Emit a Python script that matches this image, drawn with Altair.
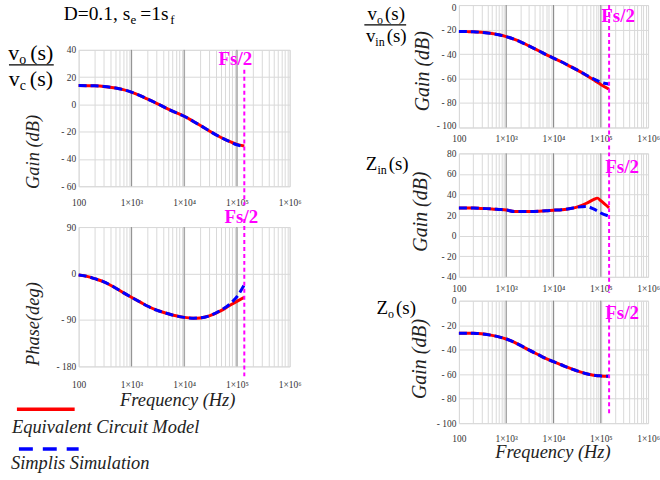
import altair as alt
import pandas as pd

# ---------------- data ----------------
FREQ_LEFT = [100, 150, 200, 300, 500, 700, 1000, 1500, 2000, 3000, 5000, 7000,
             10000, 15000, 20000, 30000, 50000, 70000, 85000, 100000, 138000]
FREQ_RIGHT = [100, 150, 200, 300, 500, 700, 1000, 1500, 2000, 3000, 5000, 7000,
              10000, 15000, 20000, 30000, 50000, 70000, 85000, 100000, 150000]

VO_VC_MODEL = [13.8, 13.7, 13.6, 13.2, 12.0, 10.8, 9.0, 6.3, 4.0, 0.8, -3.5, -6.0,
               -8.7, -12.5, -15.3, -19.5, -24.3, -27.0, -28.3, -29.3, -30.5]
VO_VC_SIM = [13.8, 13.7, 13.6, 13.2, 12.0, 10.8, 9.0, 6.3, 4.0, 0.8, -3.5, -6.0,
             -8.7, -12.5, -15.3, -19.5, -24.3, -27.0, -28.5, -29.6, -31.0]
PHASE_MODEL = [-3, -6, -10, -16, -28, -37, -46, -56, -63, -71, -78, -82,
               -85, -86.5, -86, -82, -72, -63, -58, -54, -46]
PHASE_SIM = [-3, -6, -10, -16, -28, -37, -46, -56, -63, -71, -78, -82,
             -85, -86.5, -86, -82, -71, -61, -53, -45, -22]
VO_VIN_MODEL = [-21.6, -21.7, -21.8, -22.3, -23.3, -24.3, -25.8, -28.0, -30.0, -33.3, -37.5, -40.5,
                -43.3, -46.5, -49.0, -52.5, -57.5, -61.0, -63.0, -64.8, -68.8]
VO_VIN_SIM = [-21.6, -21.7, -21.8, -22.3, -23.3, -24.3, -25.8, -28.0, -30.0, -33.3, -37.5, -40.5,
              -43.3, -46.5, -49.0, -52.5, -57.3, -60.2, -61.8, -63.0, -64.5]
ZIN_MODEL = [27, 27, 27, 26.5, 26, 25.5, 25, 23.5, 23.5, 23.5, 23.8, 24.2,
             24.8, 25.3, 26, 27.5, 31.5, 35, 36.5, 34, 27]
ZIN_SIM = [27, 27, 27, 26.5, 26, 25.5, 25, 23.5, 23.5, 23.5, 23.8, 24.2,
           24.8, 25.3, 26, 27.5, 28.3, 26, 24, 22, 19]
ZO_MODEL = [-26.5, -26.5, -26.6, -27.0, -28.3, -29.5, -31.3, -34.0, -36.5, -40.2, -44.5, -47.3,
            -49.8, -52.5, -54.5, -57.0, -59.7, -60.8, -61.2, -61.4, -61.7]
ZO_SIM = [-26.5, -26.5, -26.6, -27.0, -28.3, -29.5, -31.3, -34.0, -36.5, -40.2, -44.5, -47.3,
          -49.8, -52.5, -54.5, -57.0, -59.7, -60.8, -61.2, -61.4, -61.7]

FS_HALF_LEFT = 138000
FS_HALF_RIGHT = 150000

X_DECADES = [100, 1000, 10000, 100000, 1000000]
X_TICK_LABELS = ["100", "1×10³", "1×10⁴", "1×10⁵", "1×10⁶"]
X_GRID = [m * d for d in [100, 1000, 10000, 100000] for m in range(1, 10)] + [1000000]
INNER_DECADES = [1000, 10000, 100000]

SERIES_NAMES = ["Equivalent Circuit Model", "Simplis Simulation"]

# ---------------- style ----------------
SERIF = "Liberation Serif"
RED = "#ff0000"
BLUE = "#0000ff"
MAGENTA = "#ff00ff"
MINOR = "#d9d9d9"
MAJOR = "#8a8a8a"
LAB = "#333333"

ONE = alt.Data(values=[{"k": 0}])

X_LABEL_EXPR = " : ".join(
    f"datum.value == {v} ? '{t}'" for v, t in zip(X_DECADES, X_TICK_LABELS)
) + " : ''"
Y_LABEL_EXPR = "datum.value < 0 ? '- ' + abs(datum.value) : '' + datum.value"

# approximate Times advance widths (em)
CW = {'v': .5, 'o': .5, 'c': .444, 'i': .278, 'n': .5, '(': .333, 's': .389, ')': .333,
      'Z': .611, 'D': .722, '=': .564, '0': .5, '.': .25, '1': .5, ',': .25, ' ': .25,
      'e': .444, 'f': .333}


def tw(s, size):
    return sum(CW.get(c, .5) for c in s) * size


def txt(s, x, y, size, align="left", style="normal", weight="normal", color="black"):
    return alt.Chart(ONE).mark_text(
        text=s, align=align, baseline="alphabetic", font=SERIF, fontSize=size,
        fontStyle=style, fontWeight=weight, color=color
    ).encode(x=alt.value(x), y=alt.value(y))


def rich(parts, x0, base, main, sub, drop=4, center=False, gap=2):
    widths = [tw(t, sub if s else main) + (gap if s else 0) for t, s in parts]
    total = sum(widths)
    x = x0 - total / 2 if center else x0
    out = []
    for (t, s), wd in zip(parts, widths):
        size = sub if s else main
        out.append(txt(t, x, base + (drop if s else 0), size))
        x += wd
    return out


def hline(x1, x2, y, color="black", width=1.2, dash=None):
    kw = dict(color=color, strokeWidth=width)
    if dash:
        kw["strokeDash"] = dash
    return alt.Chart(ONE).mark_rule(**kw).encode(
        x=alt.value(x1), x2=alt.value(x2), y=alt.value(y))


def panel(freq, model, sim, ydom, yticks, fs, w, h, ytitle, ytx, yty, lpad,
          rule_top, rule_bot, fs_dx, fs_base, xtitle=None, xtx=0, xty=0,
          ytitle_size=19, yflush=False, extras=()):
    xkw = dict(values=X_GRID, labelExpr=X_LABEL_EXPR, grid=True, gridColor=MINOR,
               gridWidth=1, ticks=False, domain=False, labelPadding=lpad,
               labelFlush=False, labelOverlap=False, labelFont=SERIF,
               labelFontSize=9.5, labelColor=LAB)
    if xtitle:
        xkw.update(title=xtitle, titleX=xtx, titleY=xty, titleBaseline="middle",
                   titleAlign="center", titleFont=SERIF, titleFontSize=18.5,
                   titleFontStyle="italic", titleFontWeight="normal", titleColor="#222222")
    else:
        xkw.update(title=None)
    ykw = dict(values=yticks, labelExpr=Y_LABEL_EXPR, grid=True, gridColor=MINOR,
               gridWidth=1, ticks=False, domain=False, labelPadding=3,
               labelOverlap=False, labelFont=SERIF,
               labelFontSize=9.5, labelColor=LAB,
               title=ytitle, titleX=ytx, titleY=yty, titleAngle=270,
               titleBaseline="middle", titleAlign="center", titleFont=SERIF,
               titleFontSize=ytitle_size, titleFontStyle="italic",
               titleFontWeight="normal", titleColor="#222222")
    if yflush:
        ykw.update(labelFlush=True, labelFlushOffset=3)
    else:
        ykw.update(labelFlush=False)
    xenc = alt.X("f:Q", scale=alt.Scale(type="log", domain=[100, 1000000], nice=False),
                 axis=alt.Axis(**xkw))
    yenc = alt.Y("v:Q", scale=alt.Scale(domain=ydom, nice=False, zero=False),
                 axis=alt.Axis(**ykw))

    df_model = pd.DataFrame({"f": freq, "v": model, "s": SERIES_NAMES[0]})
    df_sim = pd.DataFrame({"f": freq, "v": sim, "s": SERIES_NAMES[1]})

    decades = alt.Chart(pd.DataFrame({"f": INNER_DECADES})).mark_rule(
        color=MAJOR, strokeWidth=1).encode(x=xenc)
    red = alt.Chart(df_model).mark_line(
        color=RED, strokeWidth=3, interpolate="monotone").encode(x=xenc, y=yenc)
    blue = alt.Chart(df_sim).mark_line(
        color=BLUE, strokeWidth=3, strokeDash=[8, 4], interpolate="monotone"
    ).encode(x=xenc, y=yenc)
    fsdf = pd.DataFrame({"f": [fs]})
    fsrule = alt.Chart(fsdf).mark_rule(
        color=MAGENTA, strokeWidth=2, strokeDash=[4, 3]
    ).encode(x=xenc, y=alt.value(rule_top), y2=alt.value(rule_bot))
    fstext = alt.Chart(fsdf).mark_text(
        text="Fs/2", align="center", baseline="alphabetic", font=SERIF,
        fontSize=19, fontWeight="bold", color=MAGENTA, dx=fs_dx
    ).encode(x=xenc, y=alt.value(fs_base))
    return alt.layer(decades, red, blue, fsrule, fstext, *extras).properties(
        width=w, height=h)


# ---------------- annotations ----------------
HEAD = alt.layer(
    txt("D=0.1, s", -15, 15, 19.5),
    txt("e", 52, 19, 13),
    txt("=1s", 62, 15, 19.5),
    txt("f", 92, 19, 13),
).properties(width=212, height=35, view=alt.ViewBackground(stroke="transparent"))

L1_extra = (
    rich([("v", False), ("o", True), ("(s)", False)], -48, 10, 22, 14, center=True, gap=4)
    + [hline(-70, -25, 15)]
    + rich([("v", False), ("c", True), ("(s)", False)], -48, 36, 22, 14, center=True, gap=4)
)

L2_extra = [
    hline(-62, -4, 183, color=RED, width=3.5),
    txt(SERIES_NAMES[0], -67, 207, 18.5, style="italic", color="#222222"),
    hline(-60, 0, 223, color=BLUE, width=3.5, dash=[14, 10]),
    txt(SERIES_NAMES[1], -68, 243, 18.5, style="italic", color="#222222"),
]

R1_extra = (
    rich([("v", False), ("o", True), ("(s)", False)], -73, 15, 19, 12, center=True)
    + [hline(-95, -53, 20)]
    + rich([("v", False), ("in", True), ("(s)", False)], -73, 37, 19, 12, center=True)
)
R2_extra = rich([("Z", False), ("in", True), ("(s)", False)], -72, 17, 19, 12, center=True)
R3_extra = rich([("Z", False), ("o", True), ("(s)", False)], -63, 13, 19, 12, center=True)

L1 = panel(FREQ_LEFT, VO_VC_MODEL, VO_VC_SIM, [-60, 40], [-60, -40, -20, 0, 20, 40],
           FS_HALF_LEFT, 212, 137, "Gain (dB)", -46, 102, 11, 20, 156, -9, 15,
           ytitle_size=18.5, extras=L1_extra)
L2 = panel(FREQ_LEFT, PHASE_MODEL, PHASE_SIM, [-180, 90], [-180, -90, 0, 90],
           FS_HALF_LEFT, 212, 140, "Phase(deg)", -46, 97, 13, -8, 152, -3, -4,
           xtitle="Frequency (Hz)", xtx=99, xty=33, ytitle_size=18.5, extras=L2_extra)
R1 = panel(FREQ_RIGHT, VO_VIN_MODEL, VO_VIN_SIM, [-100, 0], [-100, -80, -60, -40, -20, 0],
           FS_HALF_RIGHT, 190, 123, "Gain (dB)", -37, 66, 6, 0, 137, 9, 17,
           ytitle_size=20, yflush=True, extras=R1_extra)
R2 = panel(FREQ_RIGHT, ZIN_MODEL, ZIN_SIM, [-40, 80], [-40, -20, 0, 20, 40, 60, 80],
           FS_HALF_RIGHT, 190, 124, "Gain (dB)", -39, 58, 7, -8, 140, 13, 20,
           ytitle_size=20, extras=R2_extra)
R3 = panel(FREQ_RIGHT, ZO_MODEL, ZO_SIM, [-100, 0], [-100, -80, -60, -40, -20, 0],
           FS_HALF_RIGHT, 190, 123, "Gain (dB)", -40, 58, 10, 4, 116, 13, 18,
           xtitle="Frequency (Hz)", xtx=94, xty=29, ytitle_size=20, extras=R3_extra)

left = alt.vconcat(HEAD, L1, L2, spacing=0)
right = alt.vconcat(R1, R2, R3, spacing=0)

chart = alt.hconcat(left, right, spacing=61).properties(
    padding={"left": 7, "top": 0, "right": 0, "bottom": 0}
).configure_view(stroke="#7f7f7f", strokeWidth=1.5).configure(background="white")

chart.save("out.html", embed_options={"renderer": "svg", "actions": False})
